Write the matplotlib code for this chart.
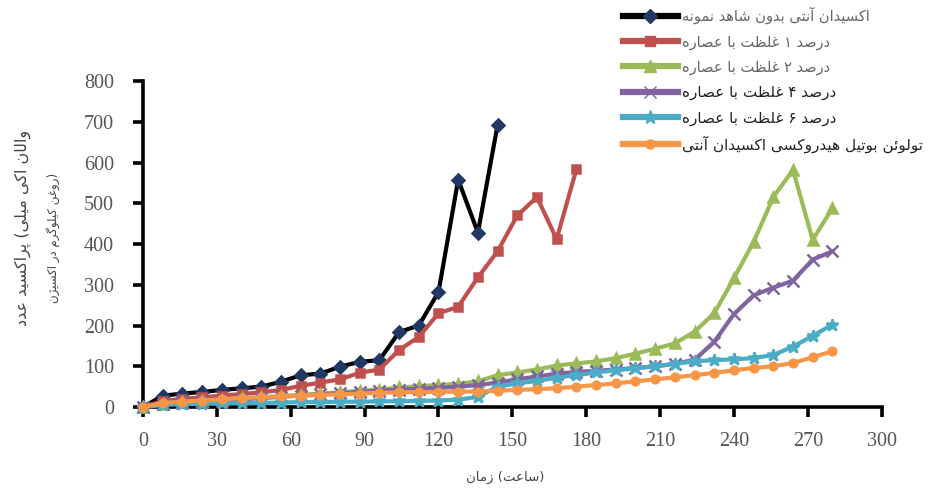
import matplotlib
matplotlib.use("Agg")
import matplotlib.pyplot as plt
from matplotlib.lines import Line2D

# ---------------- data ----------------
hours = [0, 8, 16, 24, 32, 40, 48, 56, 64, 72, 80, 88, 96, 104, 112, 120, 128, 136,
         144, 152, 160, 168, 176, 184, 192, 200, 208, 216, 224, 232, 240, 248, 256,
         264, 272, 280]

control = [0, 28, 33, 37, 42, 46, 50, 62, 78, 82, 99, 111, 115, 184, 200, 282, 558,
           428, 692]
ext1 = [0, 15, 20, 24, 28, 32, 36, 42, 52, 60, 68, 84, 92, 140, 172, 230, 246, 318,
        382, 470, 515, 412, 583]
ext2 = [0, 8, 12, 15, 18, 21, 24, 27, 30, 33, 36, 40, 43, 48, 51, 54, 57, 63, 78, 85,
        92, 102, 107, 112, 120, 131, 143, 156, 185, 230, 316, 405, 515, 582, 410, 488]
ext4 = [0, 7, 10, 13, 16, 19, 22, 25, 28, 31, 34, 37, 40, 43, 45, 47, 50, 54, 60, 68,
        75, 82, 86, 89, 92, 96, 100, 106, 116, 160, 228, 274, 293, 310, 362, 382]
ext6 = [0, 5, 7, 8, 9, 10, 10, 11, 12, 12, 13, 13, 14, 14, 15, 16, 18, 25, 50, 58, 64,
        72, 78, 85, 90, 95, 100, 106, 112, 115, 117, 120, 128, 148, 175, 202]
bht = [0, 10, 13, 16, 19, 22, 24, 26, 28, 30, 31, 33, 35, 36, 37, 37, 38, 38, 40, 42,
       44, 46, 50, 54, 58, 63, 68, 73, 78, 84, 90, 96, 100, 108, 122, 137]

labels = ["نمونه شاهد بدون آنتی اکسیدان",
          "عصاره با غلظت ۱ درصد",
          "عصاره با غلظت ۲ درصد",
          "عصاره با غلظت ۴ درصد",
          "عصاره با غلظت ۶ درصد",
          "آنتی اکسیدان هیدروکسی بوتیل تولوئن"]
xlabel = "زمان (ساعت)"
ylabel_lines = ["عدد پراکسید (میلی اکی والان", "اکسیژن در کیلوگرم روغن)"]
xticks = [0, 30, 60, 90, 120, 150, 180, 210, 240, 270, 300]
yticks = [0, 100, 200, 300, 400, 500, 600, 700, 800]

# ---------------- simple Persian shaping (renderer does no joining) ----------------
FORMS = {
    'ا': ('\uFE8D', '\uFE8E', None, None),
    'آ': ('\uFE81', '\uFE82', None, None),
    'ب': ('\uFE8F', '\uFE90', '\uFE91', '\uFE92'),
    'پ': ('\uFB56', '\uFB57', '\uFB58', '\uFB59'),
    'ت': ('\uFE95', '\uFE96', '\uFE97', '\uFE98'),
    'ث': ('\uFE99', '\uFE9A', '\uFE9B', '\uFE9C'),
    'ج': ('\uFE9D', '\uFE9E', '\uFE9F', '\uFEA0'),
    'چ': ('\uFB7A', '\uFB7B', '\uFB7C', '\uFB7D'),
    'ح': ('\uFEA1', '\uFEA2', '\uFEA3', '\uFEA4'),
    'خ': ('\uFEA5', '\uFEA6', '\uFEA7', '\uFEA8'),
    'د': ('\uFEA9', '\uFEAA', None, None),
    'ذ': ('\uFEAB', '\uFEAC', None, None),
    'ر': ('\uFEAD', '\uFEAE', None, None),
    'ز': ('\uFEAF', '\uFEB0', None, None),
    'ژ': ('\uFB8A', '\uFB8B', None, None),
    'س': ('\uFEB1', '\uFEB2', '\uFEB3', '\uFEB4'),
    'ش': ('\uFEB5', '\uFEB6', '\uFEB7', '\uFEB8'),
    'ص': ('\uFEB9', '\uFEBA', '\uFEBB', '\uFEBC'),
    'ض': ('\uFEBD', '\uFEBE', '\uFEBF', '\uFEC0'),
    'ط': ('\uFEC1', '\uFEC2', '\uFEC3', '\uFEC4'),
    'ظ': ('\uFEC5', '\uFEC6', '\uFEC7', '\uFEC8'),
    'ع': ('\uFEC9', '\uFECA', '\uFECB', '\uFECC'),
    'غ': ('\uFECD', '\uFECE', '\uFECF', '\uFED0'),
    'ف': ('\uFED1', '\uFED2', '\uFED3', '\uFED4'),
    'ق': ('\uFED5', '\uFED6', '\uFED7', '\uFED8'),
    'ک': ('\uFB8E', '\uFB8F', '\uFB90', '\uFB91'),
    'گ': ('\uFB92', '\uFB93', '\uFB94', '\uFB95'),
    'ل': ('\uFEDD', '\uFEDE', '\uFEDF', '\uFEE0'),
    'م': ('\uFEE1', '\uFEE2', '\uFEE3', '\uFEE4'),
    'ن': ('\uFEE5', '\uFEE6', '\uFEE7', '\uFEE8'),
    'و': ('\uFEED', '\uFEEE', None, None),
    'ه': ('\uFEE9', '\uFEEA', '\uFEEB', '\uFEEC'),
    'ی': ('\uFBFC', '\uFBFD', '\uFBFE', '\uFBFF'),
    'ئ': ('\uFE89', '\uFE8A', '\uFE8B', '\uFE8C'),
}


def shape_word(w):
    lead = ''
    trail = ''
    if w.startswith('('):
        lead, w = '(', w[1:]
    if w.endswith(')'):
        trail, w = ')', w[:-1]
    out = []
    n = len(w)
    for i, c in enumerate(w):
        if c not in FORMS:
            out.append(c)
            continue
        iso, fin, ini, med = FORMS[c]
        prev = w[i - 1] if i > 0 else None
        nxt = w[i + 1] if i < n - 1 else None
        jp = prev in FORMS and FORMS[prev][2] is not None
        jn = ini is not None and nxt in FORMS
        if jp and jn:
            out.append(med)
        elif jp:
            out.append(fin)
        elif jn:
            out.append(ini)
        else:
            out.append(iso)
    return lead + ''.join(out)[::-1] + trail


def vis(s):
    # words laid out left-to-right, as in the reference picture
    return ' '.join(shape_word(w) for w in s.split(' '))


# ---------------- figure ----------------
fig = plt.figure(figsize=(9.29, 4.91), dpi=100)
ax = fig.add_axes([0.154, 0.171, 0.795, 0.664])

lw = 3.0
series = [
    (hours[:len(control)], control, '#000000', 'D', '#1F3864', 6),
    (hours[:len(ext1)], ext1, '#C0504D', 's', '#C0504D', 6),
    (hours, ext2, '#9BBB59', '^', '#9BBB59', 7),
    (hours, ext4, '#8064A2', 'x', '#8064A2', 8),
    (hours, ext6, '#4BACC6', '*', '#4BACC6', 9),
    (hours, bht, '#F79646', 'o', '#F79646', 5.5),
]
handles = []
for (x, y, c, m, mc, ms) in series:
    ax.plot(x, y, color=c, lw=lw, marker=m, markersize=ms, markerfacecolor=mc,
            markeredgecolor=mc, markeredgewidth=1.8, clip_on=False, zorder=3)
    handles.append(Line2D([0], [0], color=c, lw=4.5, marker=m, markersize=ms + 1,
                          markerfacecolor=mc, markeredgecolor=mc))

ax.set_xlim(0, 300)
ax.set_ylim(0, 800)
ax.set_xticks(xticks)
ax.set_yticks(yticks)
ax.spines['top'].set_visible(False)
ax.spines['right'].set_visible(False)
for s in ['left', 'bottom']:
    ax.spines[s].set_linewidth(2.6)
    ax.spines[s].set_color('black')
ax.tick_params(axis='both', direction='out', length=7, width=2.6, colors='black',
               labelcolor='#555555')
ax.tick_params(axis='x', pad=11)
ax.tick_params(axis='y', pad=14)
for lab in ax.get_xticklabels() + ax.get_yticklabels():
    lab.set_fontfamily('Liberation Serif')
    lab.set_fontsize(14.5)

fig.text(0.544, 0.027, vis(xlabel), fontsize=9.5, color='#444444', ha='center',
         va='center', family='DejaVu Sans')
fig.text(0.024, 0.535, vis(ylabel_lines[0]), fontsize=11.5, color='#444444',
         rotation=90, ha='center', va='center', family='DejaVu Sans')
fig.text(0.057, 0.515, vis(ylabel_lines[1]), fontsize=8.5, color='#444444',
         rotation=90, ha='center', va='center', family='DejaVu Sans')

leg = fig.legend(handles, [vis(l) for l in labels], loc='upper left',
                 bbox_to_anchor=(0.664, 0.998), frameon=False, fontsize=11,
                 handlelength=3.6, handletextpad=0.25, labelspacing=0.66,
                 borderaxespad=0.0)
for i, t in enumerate(leg.get_texts()):
    t.set_fontfamily('DejaVu Sans')
    if i < 3:
        t.set_color('#666666')
        t.set_fontsize(10.5)
    else:
        t.set_color('#222222')

fig.savefig('out.png', dpi=100)
